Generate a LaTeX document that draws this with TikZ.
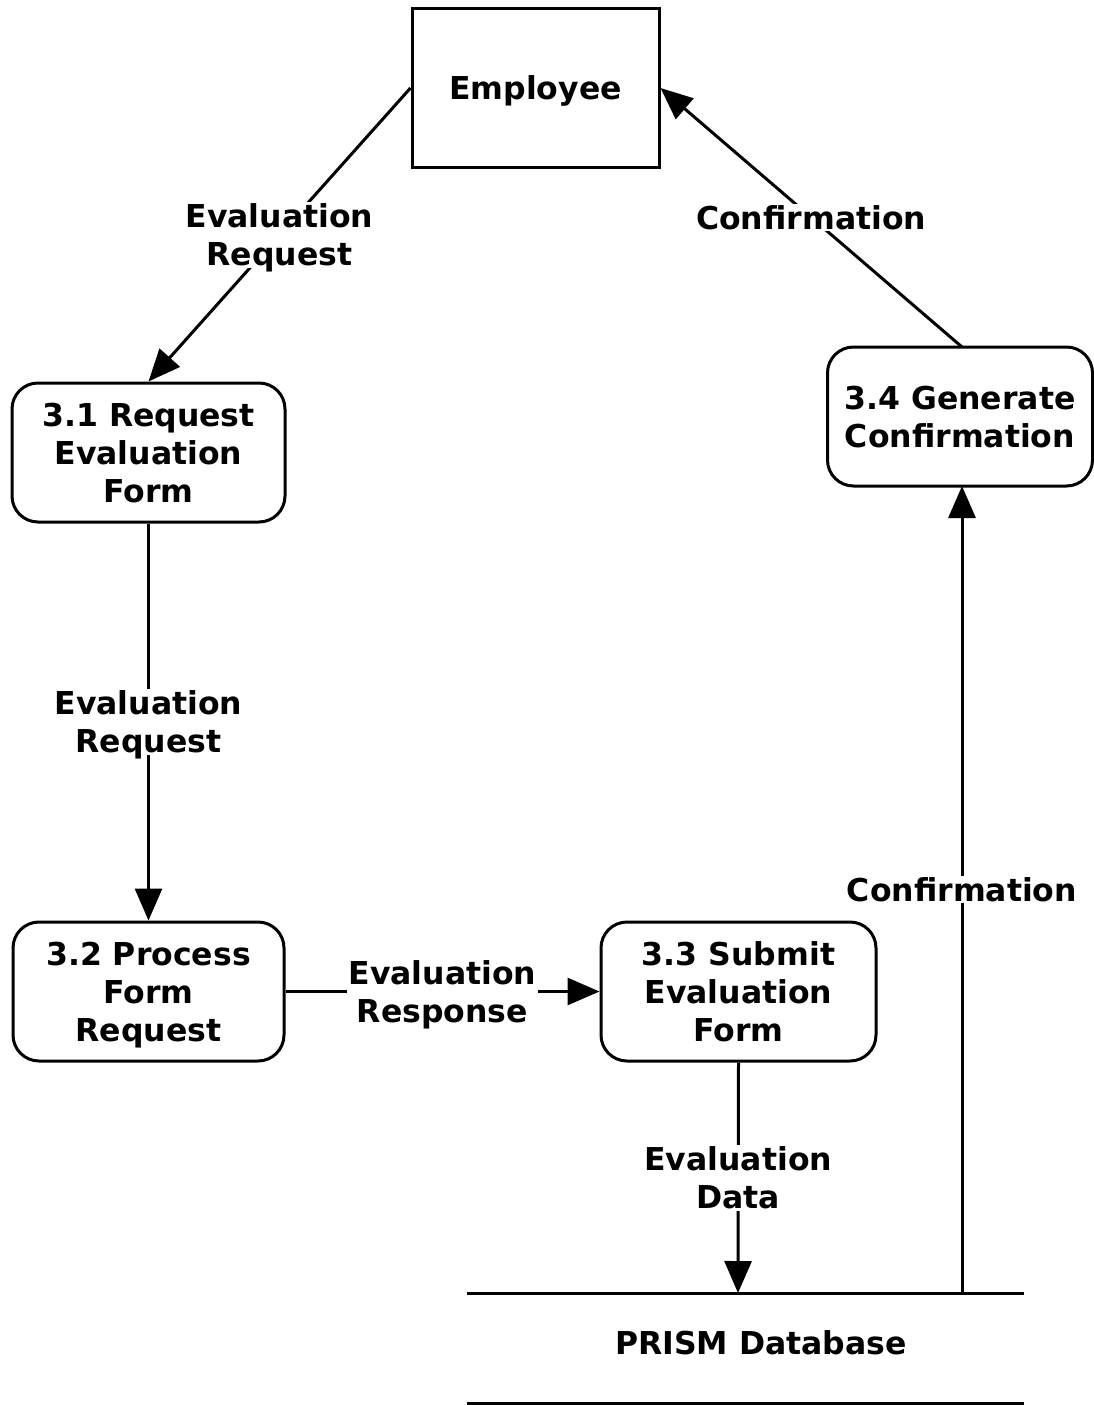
\documentclass[tikz,border=0pt]{standalone}
\usepackage{fontspec}
\setmainfont{DejaVu Sans}
\usetikzlibrary{arrows.meta}
\begin{document}
\begin{tikzpicture}[x=1pt,y=-1pt,
  every node/.style={font=\fontsize{31.5}{38}\selectfont\bfseries, align=center, text depth=0pt},
  proc/.style={draw, line width=3pt, rounded corners=26pt, inner sep=0pt},
  ent/.style={draw, line width=3pt, inner sep=0pt},
  flow/.style={line width=3pt, -{Triangle[length=32pt,width=27pt]}},
  lbl/.style={fill=white, inner sep=2pt}]
\useasboundingbox (0,0) rectangle (1094,1405);
% external entity
\node[ent, minimum width=247pt, minimum height=158pt] (emp) at (535.5,88) {Employee};
% processes
\node[proc, minimum width=273pt, minimum height=139pt] (p31) at (148.5,452.5) {3.1 Request\\Evaluation\\Form};
\node[proc, minimum width=271pt, minimum height=139pt] (p32) at (148.5,991.5) {3.2 Process\\Form\\Request};
\node[proc, minimum width=275pt, minimum height=139pt] (p33) at (738.5,991.5) {3.3 Submit\\Evaluation\\Form};
\node[proc, minimum width=265pt, minimum height=139pt] (p34) at (960,416.5) {3.4 Generate\\Confirmation};
% data store
\coordinate (dbtl) at (467,1293);
\coordinate (dbtr) at (1024,1293);
\coordinate (dbbl) at (467,1403);
\coordinate (dbbr) at (1024,1403);
\draw[line width=3pt] (dbtl) -- (dbtr);
\draw[line width=3pt] (dbbl) -- (dbbr);
\node (db) at (761,1343) {PRISM Database};
\coordinate (dbin) at (738,1293);
\coordinate (dbout) at (962,1293);
\coordinate (p34in) at (962,486);
\coordinate (p34out) at (962,347);
% data flows
\draw[flow] (emp.west) -- (p31.north) node[midway, lbl] {Evaluation\\Request};
\draw[flow] (p31.south) -- (p32.north) node[midway, lbl] {Evaluation\\Request};
\draw[flow] (p32.east) -- (p33.west) node[midway, lbl] {Evaluation\\Response};
\draw[flow] (p33.south) -- (dbin) node[midway, lbl] {Evaluation\\Data};
\draw[flow] (dbout) -- (p34in) node[midway, lbl] {Confirmation};
\draw[flow] (p34out) -- (emp.east) node[midway, lbl] {Confirmation};
\end{tikzpicture}
\end{document}
